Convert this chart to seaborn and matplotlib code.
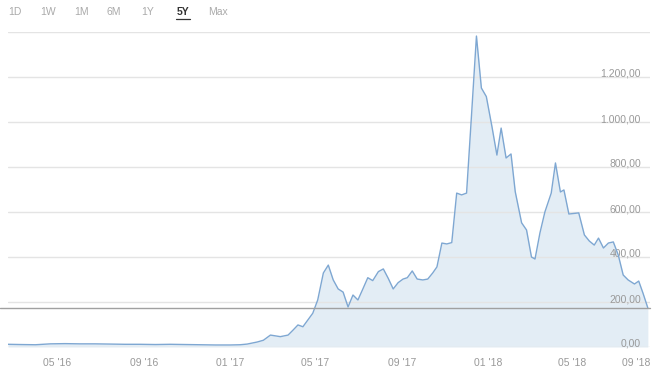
import matplotlib
matplotlib.use("Agg")
import matplotlib.pyplot as plt
import seaborn as sns
import pandas as pd

dates = ["2016-02-21", "2016-03-09", "2016-03-31", "2016-04-21", "2016-05-12", "2016-06-02",
         "2016-06-23", "2016-07-15", "2016-08-05", "2016-08-26", "2016-09-17", "2016-10-08",
         "2016-10-29", "2016-11-20", "2016-12-11", "2017-01-01", "2017-01-15", "2017-01-25",
         "2017-02-08", "2017-02-17", "2017-02-27", "2017-03-13", "2017-03-24", "2017-03-31",
         "2017-04-07", "2017-04-14", "2017-04-21", "2017-04-28", "2017-05-05", "2017-05-13",
         "2017-05-20", "2017-05-27", "2017-06-03", "2017-06-10", "2017-06-17", "2017-06-24",
         "2017-07-01", "2017-07-08", "2017-07-15", "2017-07-22", "2017-07-30", "2017-08-06",
         "2017-08-13", "2017-08-20", "2017-08-27", "2017-09-03", "2017-09-09", "2017-09-16",
         "2017-09-23", "2017-10-01", "2017-10-08", "2017-10-15", "2017-10-21", "2017-10-28",
         "2017-11-04", "2017-11-11", "2017-11-18", "2017-11-25", "2017-12-02", "2017-12-09",
         "2017-12-16", "2017-12-23", "2017-12-30", "2018-01-07", "2018-01-14", "2018-01-20",
         "2018-01-27", "2018-02-03", "2018-02-09", "2018-02-18", "2018-02-25", "2018-03-04",
         "2018-03-09", "2018-03-16", "2018-03-23", "2018-04-01", "2018-04-07", "2018-04-14",
         "2018-04-19", "2018-04-26", "2018-05-10", "2018-05-18", "2018-05-25", "2018-06-01",
         "2018-06-07", "2018-06-14", "2018-06-21", "2018-06-28", "2018-07-05", "2018-07-12",
         "2018-07-19", "2018-07-28", "2018-08-03", "2018-08-09", "2018-08-16"]
prices = [12, 11, 10, 14, 15, 14, 14, 13, 12, 12, 11, 12,
          11, 10, 9, 9, 10, 13, 22, 30, 53, 46, 53, 75,
          98, 90, 120, 150, 209, 329, 364, 298, 258, 244, 178, 231,
          209, 258, 308, 295, 335, 347, 305, 258, 286, 302, 308, 338,
          302, 298, 302, 329, 356, 462, 458, 464, 684, 676, 684, 1030,
          1382, 1151, 1113, 979, 853, 973, 840, 858, 690, 552, 520, 400,
          391, 507, 600, 684, 818, 689, 698, 591, 596, 498, 471, 453,
          484, 440, 462, 467, 409, 320, 298, 280, 293, 240, 173]

y_ticks = [0, 200, 400, 600, 800, 1000, 1200, 1400]
y_labels = ["0,00", "200,00", "400,00", "600,00", "800,00", "1.000,00", "1.200,00", ""]
x_tick_dates = ["2016-05-01", "2016-09-01", "2017-01-01", "2017-05-01", "2017-09-01",
                "2018-01-01", "2018-05-01"]
x_tick_labels = ["05 '16", "09 '16", "01 '17", "05 '17", "09 '17", "01 '18", "05 '18", "09 '18"]
range_buttons = ["1D", "1W", "1M", "6M", "1Y", "5Y", "Max"]
active_button = "5Y"
last_price = 173

df = pd.DataFrame({"date": pd.to_datetime(dates), "price": prices})

sns.set_style("white")
plt.rcParams["font.family"] = ["Liberation Sans", "DejaVu Sans"]

W, H = 660, 387
fig = plt.figure(figsize=(W / 100, H / 100), dpi=100)
ax = fig.add_axes([8 / W, (H - 347) / H, 642 / W, 315 / H])
ax.set_axisbelow(False)

line_c = "#7ea7d2"
fill_c = "#e3edf5"
grid_c = "#e4e4e4"
txt_c = "#999999"

ax.fill_between(df["date"], df["price"], 0, color=fill_c, lw=0, zorder=1)
sns.lineplot(data=df, x="date", y="price", ax=ax, color=line_c, lw=1.0, zorder=3)

xmin = pd.Timestamp("2016-02-21")
xmax = pd.Timestamp("2018-08-19")
ax.set_xlim(xmin, xmax)
ax.set_ylim(0, 1400)

ax.set_yticks(y_ticks)
ax.set_yticklabels(y_labels)
ax.yaxis.tick_right()
ax.tick_params(axis="y", length=0, pad=-6.5, labelsize=7.5, labelcolor=txt_c)
for lab in ax.get_yticklabels():
    lab.set_horizontalalignment("right")
    lab.set_verticalalignment("baseline")
ax.yaxis.grid(True, color=grid_c, lw=1.0)
ax.xaxis.grid(False)

xt = list(pd.to_datetime(x_tick_dates)) + [xmax]
ax.set_xticks(xt)
ax.set_xticklabels(x_tick_labels)
ax.tick_params(axis="x", length=0, pad=8, labelsize=7.5, labelcolor=txt_c)
ax.get_xticklabels()[-1].set_horizontalalignment("right")

ax.axhline(last_price, xmin=-8 / 642, xmax=1, color="#a0a0a0", lw=1.0, zorder=4, clip_on=False)

for s in ax.spines.values():
    s.set_visible(False)
ax.set_xlabel("")
ax.set_ylabel("")

btn_x = [15, 48, 82, 114, 148, 183, 218]
for name, bx in zip(range_buttons, btn_x):
    if name == active_button:
        fig.text(bx / W, 1 - 12 / H, name, ha="center", va="center", fontsize=7.5,
                 color="#333333", fontweight="bold")
        fig.add_artist(plt.Line2D([(bx - 7) / W, (bx + 7) / W], [1 - 18.5 / H, 1 - 18.5 / H],
                                  color="#333333", lw=0.9))
    else:
        fig.text(bx / W, 1 - 12 / H, name, ha="center", va="center", fontsize=7.5, color="#aaaaaa")

fig.savefig("out.png", dpi=100)
